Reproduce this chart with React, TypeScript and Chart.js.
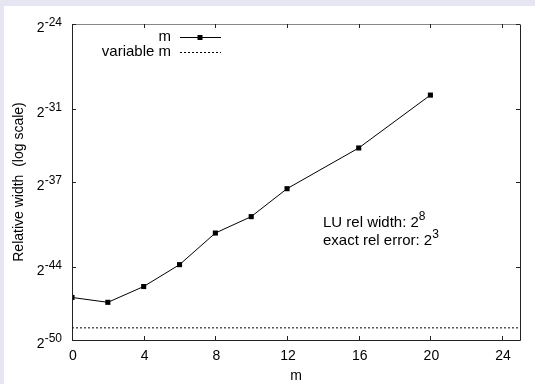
import React, { useEffect, useRef } from "react";
import { Chart, registerables } from "chart.js";

Chart.register(...registerables);

const xValues = [0, 2, 4, 6, 8, 10, 12, 16, 20];
const widthLog2 = [-46.5, -46.9, -45.6, -43.8, -41.2, -39.85, -37.55, -34.2, -29.85];
const variableMX = [0, 25];
const variableMLog2 = [-49, -49];
const xTicks = [0, 4, 8, 12, 16, 20, 24];
const yTicks = [-50, -44, -37, -31, -24];
const seriesNames = ["m", "variable m"];
const annotations = [
  { text: "LU rel width: 2", exp: "8" },
  { text: "exact rel error: 2", exp: "3" },
];
const xTitle = "m";
const yTitle = "Relative width  (log scale)";

const FONT = '"Liberation Sans", Arial, Helvetica, sans-serif';

const decorPlugin = {
  id: "decor",
  beforeDraw(chart: any) {
    const ctx = chart.ctx;
    ctx.save();
    ctx.fillStyle = "#ffffff";
    ctx.fillRect(0, 0, chart.width, chart.height);
    ctx.fillStyle = "#e6e6f2";
    ctx.fillRect(0, 0, 535, 6);
    ctx.fillRect(0, 0, 4, chart.height);
    ctx.restore();
  },
  afterDatasetsDraw(chart: any) {
    const ctx = chart.ctx;
    const { left, right, top, bottom } = chart.chartArea;
    const xs = chart.scales.x;
    const ys = chart.scales.y;
    ctx.save();
    // frame
    ctx.lineWidth = 1;
    ctx.strokeStyle = "#222";
    ctx.beginPath();
    ctx.moveTo(left + 0.5, top);
    ctx.lineTo(left + 0.5, bottom + 0.5);
    ctx.lineTo(right + 0.5, bottom + 0.5);
    ctx.lineTo(right + 0.5, top);
    ctx.stroke();
    ctx.strokeStyle = "#888";
    ctx.beginPath();
    ctx.moveTo(left, top + 0.5);
    ctx.lineTo(right + 1, top + 0.5);
    ctx.stroke();
    // ticks
    ctx.strokeStyle = "#222";
    const tl = 4;
    ctx.beginPath();
    xTicks.forEach((v) => {
      const px = Math.round(xs.getPixelForValue(v)) + 0.5;
      ctx.moveTo(px, bottom);
      ctx.lineTo(px, bottom - tl);
      ctx.moveTo(px, top);
      ctx.lineTo(px, top + tl);
    });
    yTicks.forEach((v) => {
      const py = Math.round(ys.getPixelForValue(v)) + 0.5;
      ctx.moveTo(left, py);
      ctx.lineTo(left + tl, py);
      ctx.moveTo(right, py);
      ctx.lineTo(right - tl, py);
    });
    ctx.stroke();

    ctx.fillStyle = "#000";
    // x tick labels
    ctx.font = `14px ${FONT}`;
    ctx.textAlign = "center";
    ctx.textBaseline = "middle";
    xTicks.forEach((v) => {
      ctx.fillText(String(v), xs.getPixelForValue(v) + 1, 356);
    });
    // x title
    ctx.fillText(xTitle, (left + right) / 2, 376);

    // y tick labels with superscript
    yTicks.forEach((v) => {
      const py = ys.getPixelForValue(v);
      ctx.font = `14px ${FONT}`;
      const w2 = ctx.measureText("2").width;
      ctx.font = `12px ${FONT}`;
      const exp = String(v);
      const we = ctx.measureText(exp).width;
      const x0 = 62 - w2 - we;
      ctx.textAlign = "left";
      ctx.textBaseline = "alphabetic";
      ctx.font = `14px ${FONT}`;
      ctx.fillText("2", x0, py + 8);
      ctx.font = `12px ${FONT}`;
      ctx.fillText(exp, x0 + w2, py + 2);
    });

    // y title
    ctx.save();
    ctx.translate(19, (top + bottom) / 2);
    ctx.rotate(-Math.PI / 2);
    ctx.font = `14px ${FONT}`;
    ctx.textAlign = "center";
    ctx.textBaseline = "middle";
    ctx.fillText(yTitle, 0, 0);
    ctx.restore();

    // legend
    ctx.font = `15px ${FONT}`;
    ctx.textAlign = "right";
    ctx.textBaseline = "middle";
    const rows = [37, 52];
    seriesNames.forEach((name, i) => {
      ctx.fillText(name, 171, rows[i]);
    });
    ctx.strokeStyle = "#000";
    ctx.lineWidth = 1;
    ctx.beginPath();
    ctx.moveTo(180, rows[0] + 0.5);
    ctx.lineTo(221, rows[0] + 0.5);
    ctx.stroke();
    ctx.fillRect(197.5, rows[0] - 2, 5, 5);
    ctx.setLineDash([2, 2]);
    ctx.beginPath();
    ctx.moveTo(180, rows[1] + 0.5);
    ctx.lineTo(221, rows[1] + 0.5);
    ctx.stroke();
    ctx.setLineDash([]);

    // annotations
    const annRows = [227, 245];
    annotations.forEach((a, i) => {
      ctx.textAlign = "left";
      ctx.textBaseline = "alphabetic";
      ctx.font = `15px ${FONT}`;
      ctx.fillText(a.text, 323, annRows[i]);
      const w = ctx.measureText(a.text).width;
      ctx.font = `12px ${FONT}`;
      ctx.fillText(a.exp, 323 + w, annRows[i] - 7);
    });
    ctx.restore();
  },
};

export default function App() {
  const ref = useRef<HTMLCanvasElement | null>(null);
  useEffect(() => {
    if (!ref.current) return;
    const chart = new Chart(ref.current, {
      type: "line",
      data: {
        datasets: [
          {
            label: seriesNames[0],
            data: xValues.map((x, i) => ({ x, y: widthLog2[i] })),
            borderColor: "#000",
            backgroundColor: "#000",
            borderWidth: 1,
            pointStyle: "rect",
            pointRadius: 3.6,
            pointBorderWidth: 0,
            pointBackgroundColor: "#000",
            fill: false,
            tension: 0,
          },
          {
            label: seriesNames[1],
            data: variableMX.map((x, i) => ({ x, y: variableMLog2[i] })),
            borderColor: "#000",
            borderWidth: 1,
            borderDash: [2, 2],
            pointRadius: 0,
            fill: false,
          },
        ],
      },
      options: {
        responsive: false,
        animation: false,
        events: [],
        layout: { padding: { left: 0, top: 24, right: 20, bottom: 0 } },
        plugins: { legend: { display: false }, tooltip: { enabled: false } },
        scales: {
          x: {
            type: "linear",
            min: 0,
            max: 25,
            grid: { display: false },
            border: { display: false },
            ticks: { display: false },
            afterBuildTicks: (s: any) => {
              s.ticks = xTicks.map((v) => ({ value: v }));
            },
            afterFit: (s: any) => {
              s.height = 44;
            },
          },
          y: {
            type: "linear",
            min: -50,
            max: -24,
            grid: { display: false },
            border: { display: false },
            ticks: { display: false },
            afterBuildTicks: (s: any) => {
              s.ticks = yTicks.map((v) => ({ value: v }));
            },
            afterFit: (s: any) => {
              s.width = 72;
            },
          },
        },
      },
      plugins: [decorPlugin],
    } as any);
    return () => chart.destroy();
  }, []);
  return (
    <div style={{ position: "fixed", left: 0, top: 0, width: 540, height: 384 }}>
      <canvas ref={ref} width={540} height={384} style={{ display: "block" }} />
    </div>
  );
}
